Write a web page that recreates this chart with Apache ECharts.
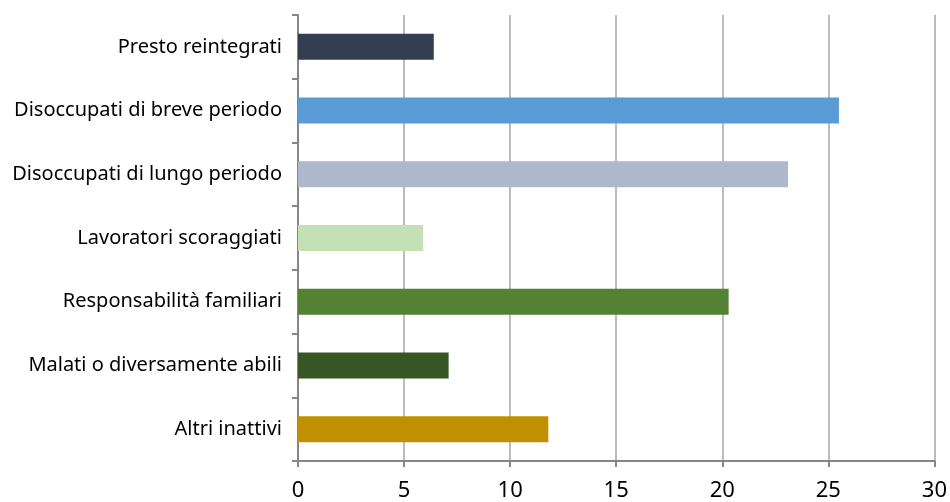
<!DOCTYPE html>
<html>
<head>
<meta charset="utf-8">
<script src="https://cdn.jsdelivr.net/npm/echarts@6/dist/echarts.min.js"></script>
<style>
  html, body { margin: 0; padding: 0; background: #fff; }
  #chart { width: 950px; height: 502px; }
</style>
</head>
<body>
<div id="chart"></div>
<script>
// categories top to bottom
var categories = [
  'Presto reintegrati',
  'Disoccupati di breve periodo',
  'Disoccupati di lungo periodo',
  'Lavoratori scoraggiati',
  'Responsabilità familiari',
  'Malati o diversamente abili',
  'Altri inattivi'
]
var values = [6.4, 25.5, 23.1, 5.9, 20.3, 7.1, 11.8]
var barColors = ['#333f50', '#5b9bd5', '#adb9ca', '#c5e0b4', '#548235', '#375623', '#bf9000']
var xTicks = [0, 5, 10, 15, 20, 25, 30]

var chart = echarts.init(document.getElementById('chart'))

var option = {
  animation: false,
  grid: {
    left: 298,
    right: 15,
    top: 15,
    bottom: 40
  },
  xAxis: {
    type: 'value',
    min: xTicks[0],
    max: xTicks[xTicks.length - 1],
    interval: 5,
    axisLine: { show: true, lineStyle: { color: '#868686', width: 2 } },
    axisTick: { show: true, length: 6, lineStyle: { color: '#868686', width: 2 } },
    axisLabel: {
      color: '#000',
      fontSize: 22,
      fontFamily: 'Noto Sans',
      margin: 19
    },
    splitLine: { show: true, lineStyle: { color: '#a6a6a6', width: 1.5 } }
  },
  yAxis: {
    type: 'category',
    inverse: true,
    data: categories,
    axisLine: { show: true, lineStyle: { color: '#868686', width: 2 } },
    axisTick: { show: true, length: 6, lineStyle: { color: '#868686', width: 2 } },
    axisLabel: {
      color: '#000',
      fontSize: 20,
      fontFamily: 'Noto Sans',
      margin: 16
    }
  },
  series: [
    {
      type: 'bar',
      barWidth: 26,
      data: values.map(function (v, i) {
        return { value: v, itemStyle: { color: barColors[i] } }
      })
    }
  ]
}

chart.setOption(option)
</script>
</body>
</html>
